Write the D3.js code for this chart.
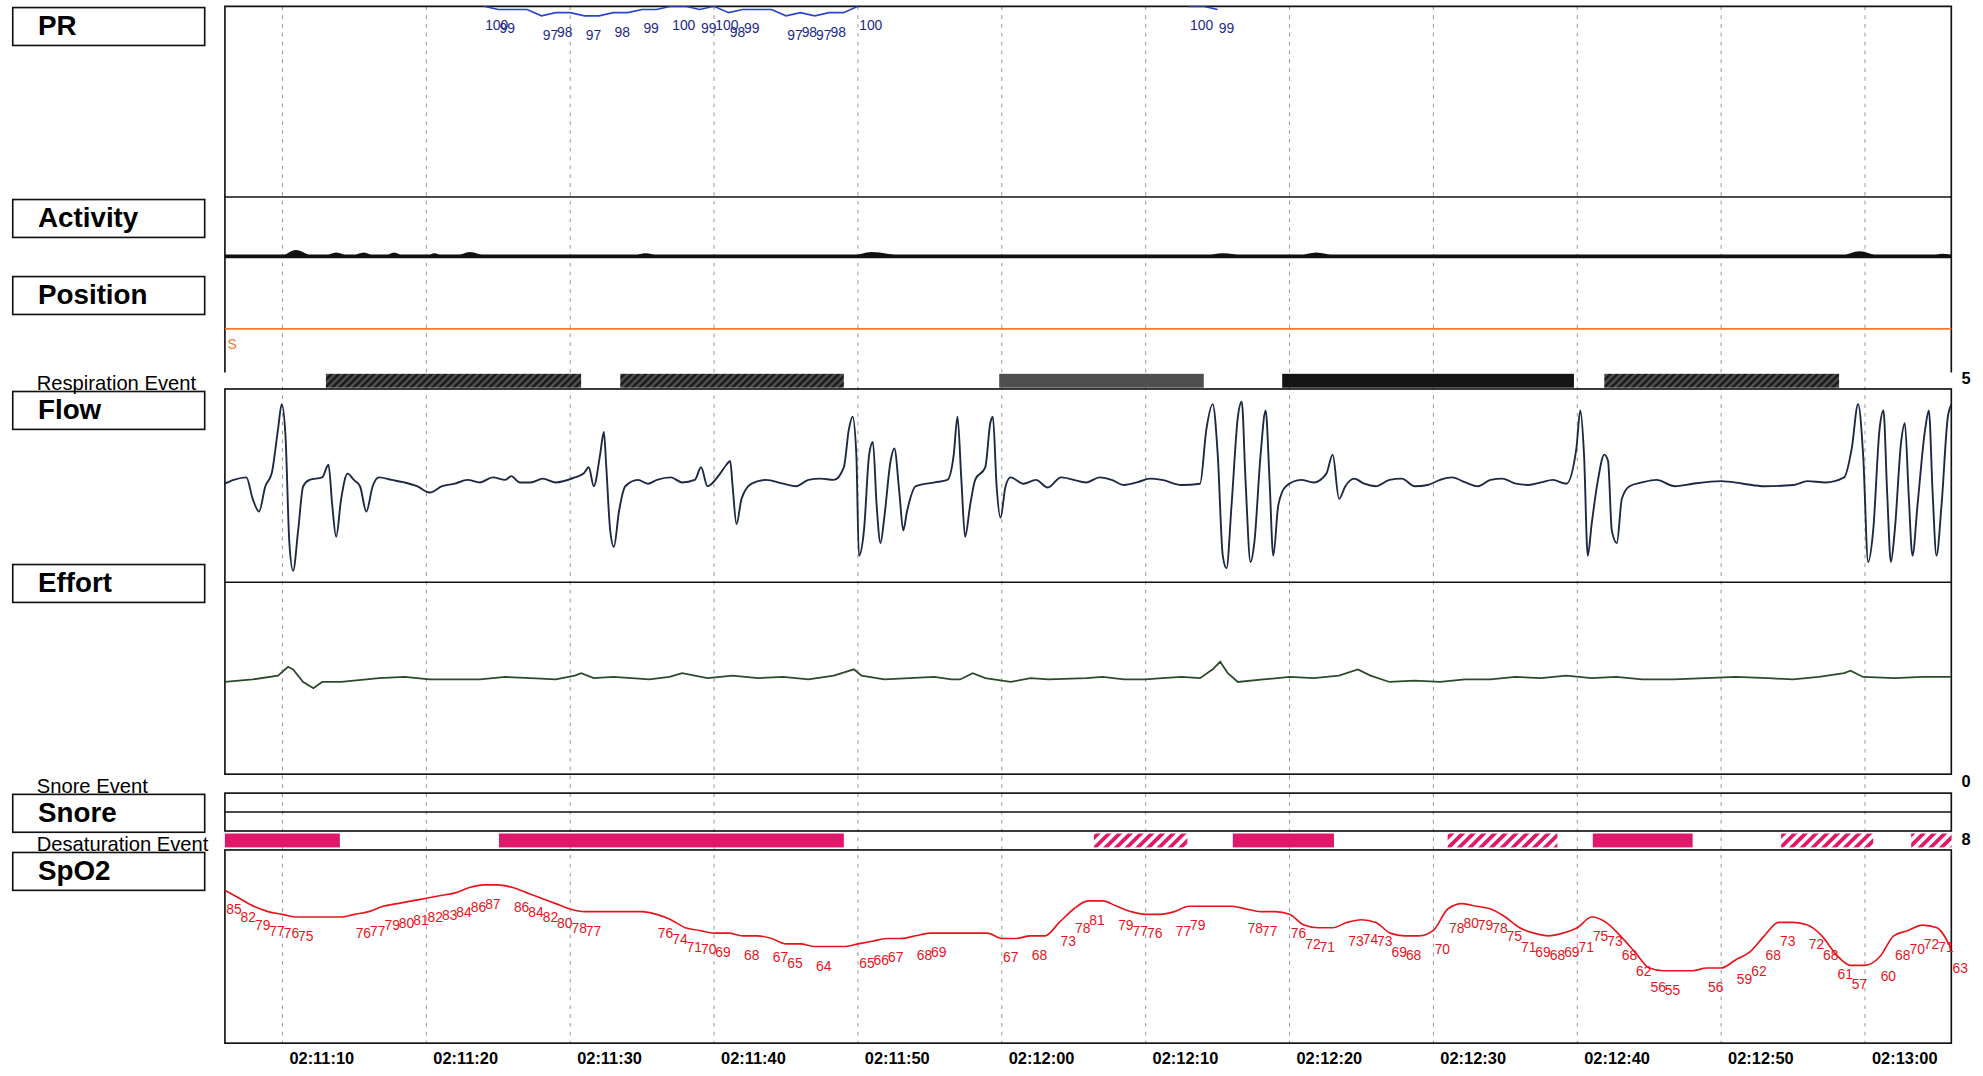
<!DOCTYPE html>
<html lang="en">
<head>
<meta charset="UTF-8" />
<title>PSG epoch 02:11:06 - 02:13:06</title>
<script src="https://cdn.jsdelivr.net/npm/d3@7"></script>
<style>
  html, body { margin: 0; padding: 0; background: #fff; }
  svg { display: block; }
</style>
</head>
<body>
<svg id="chart" width="1983" height="1076" viewBox="0 0 1570 852"></svg>
<script>
// all times are seconds after 02:11:00
var tickTimes = [10, 20, 30, 40, 50, 60, 70, 80, 90, 100, 110, 120];
var tickLabels = ["02:11:10", "02:11:20", "02:11:30", "02:11:40", "02:11:50", "02:12:00",
                  "02:12:10", "02:12:20", "02:12:30", "02:12:40", "02:12:50", "02:13:00"];

var channelNames = ["PR", "Activity", "Position", "Flow", "Effort", "Snore", "SpO2"];
var eventNames = ["Respiration Event", "Snore Event", "Desaturation Event"];
var eventCounts = ["5", "0", "8"];

// SpO2, one value per second from t = 6 to t = 126
var spo2Start = 6;
var spo2Values = [
  85, 82, 79, 77, 76, 75, 75, 75, 75, 76, 77, 79, 80, 81, 82, 83, 84, 86, 87, 87,
  86, 84, 82, 80, 78, 77, 77, 77, 77, 77, 76, 74, 71, 70, 69, 69, 68, 68, 67, 65,
  65, 64, 64, 64, 65, 66, 67, 67, 68, 69, 69, 69, 69, 69, 67, 67, 68, 68, 73, 78,
  81, 81, 79, 77, 76, 76, 77, 79, 79, 79, 79, 78, 77, 77, 76, 72, 71, 71, 73, 74,
  73, 69, 68, 68, 70, 78, 80, 79, 78, 75, 71, 69, 68, 69, 71, 75, 73, 68, 62, 56,
  55, 55, 55, 56, 56, 59, 62, 68, 73, 73, 72, 68, 61, 57, 57, 60, 68, 70, 72, 71,
  63
];

// pulse rate, one value per second from t = 23; null = above the scale
var prStart = 23;
var prValues = [
  null, 100, 99, 99, 99, 97, 98, 98, 97, 97, 98, 98, 99, 99, 100, 100, 99, 100, 98, 99,
  99, 99, 97, 98, 97, 98, 98, 100,
  null, null, null, null, null, null, null, null, null, null, null,
  null, null, null, null, null, null, null, null, null, null, null,
  100, 100, 99, null
];

// flow (arbitrary units), [t, value]
var flowPoints = [
  [6.00, 1], [6.61, 4], [7.49, 6], [7.93, -11], [8.37, -21], [8.81, -1], [9.25, 9], [9.69, 44],
  [9.95, 64], [10.21, 39], [10.48, -46], [10.74, -68], [11.09, -36], [11.44, -1], [11.88, 4],
  [12.76, 6], [13.20, 16], [13.46, -16], [13.73, -41], [14.08, -11], [14.52, 9], [14.96, 4],
  [15.39, -1], [15.83, -21], [16.27, -1], [16.71, 6], [17.59, 4], [18.47, 2], [19.35, -1],
  [20.22, -6], [21.10, -1], [21.98, 1], [22.86, 4], [23.73, 2], [24.61, 6], [25.49, 4],
  [25.9, 7], [26.5, 2], [27.25, 2], [28.1, 5], [29.00, 2], [30.32, 6], [30.93, 9], [31.29, 14],
  [31.64, -1], [32.08, 24], [32.34, 42], [32.51, 14], [32.78, -36], [33.04, -49], [33.39, -21],
  [33.83, -1], [34.71, 4], [35.4, 1], [36.03, 4], [37.0, 6], [37.78, 2], [38.66, 4], [39.10, 14],
  [39.54, -1], [40.42, 9], [40.86, 16], [41.12, 19], [41.29, -1], [41.56, -31], [41.91, -11],
  [42.61, 1], [43.6, 4], [44.81, 1], [45.7, -1], [46.56, 4], [47.4, 5], [48.32, 4], [49.02, 14],
  [49.37, 44], [49.63, 54], [49.89, 24], [50.07, -56], [50.42, -36], [50.78, 24], [51.04, 34],
  [51.30, -16], [51.57, -46], [51.83, -26], [52.27, 19], [52.53, 29], [52.88, -6], [53.15, -36],
  [53.41, -21], [54.03, -1], [55.34, 2], [56.22, 4], [56.66, 24], [56.92, 54], [57.19, 4],
  [57.45, -41], [57.80, -16], [58.15, 4], [58.85, 14], [59.20, 49], [59.38, 54], [59.64, -1],
  [59.91, -26], [60.26, -1], [60.61, 6], [61.5, 1], [62.37, 4], [63.2, -2], [64.12, 6],
  [65.88, 2], [66.8, 6], [67.63, 4], [68.5, 0], [69.39, 2], [70.3, 5], [71.14, 4], [72.5, 0],
  [73.78, 1], [74.22, 44], [74.66, 64], [75.01, 24], [75.36, -56], [75.62, -66], [75.97, -16],
  [76.41, 54], [76.68, 66], [76.94, 4], [77.29, -61], [77.55, -46], [77.99, 24], [78.34, 59],
  [78.61, 4], [78.87, -56], [79.22, -16], [79.75, -1], [80.80, 4], [81.68, 2], [82.56, 9],
  [83.00, 24], [83.44, -11], [83.88, -1], [84.5, 5], [85.19, 1], [86.0, -1], [86.95, 4],
  [87.8, 5], [88.71, -1], [89.6, 0], [90.46, 4], [91.3, 6], [92.22, 2], [93.1, -1], [93.97, 4],
  [94.8, 5], [95.73, 1], [96.6, 0], [97.48, 2], [98.3, 4], [99.24, 1], [99.94, 29], [100.21, 59],
  [100.47, 24], [100.73, -56], [101.00, -31], [101.44, 4], [101.88, 24], [102.14, 19],
  [102.40, -36], [102.75, -46], [103.10, -11], [103.63, -1], [104.51, 2], [105.5, 4],
  [106.8, -1], [108.02, 1], [110.0, 3], [111.53, 1], [113.0, -1], [115.04, 0], [116.0, 3],
  [117.24, 2], [118.55, 6], [119.08, 29], [119.52, 64], [119.87, 24], [120.22, -61],
  [120.57, -36], [121.01, 44], [121.28, 59], [121.54, -6], [121.80, -61], [122.07, -36],
  [122.51, 34], [122.77, 49], [123.03, -6], [123.30, -56], [123.65, -16], [124.18, 44],
  [124.44, 59], [124.70, -6], [124.97, -56], [125.32, -16], [125.76, 54], [126.02, 64]
];

// effort (arbitrary units), [t, value]
var effortPoints = [
  [6.00, -3], [7.93, -1], [9.69, 2], [10.39, 9], [10.74, 7], [11.44, -3], [12.15, -8],
  [12.76, -3], [14.08, -3], [16.71, 0], [18.5, 1], [20.22, -1], [22.0, -1], [23.73, -1],
  [25.5, 1], [27.25, 0], [29.0, -1], [30.32, 2], [30.76, 4], [31.64, 0], [33.0, 1], [34.27, 0],
  [35.5, -1], [36.90, 1], [37.78, 4], [39.54, 0], [41.29, 2], [43.05, 0], [44.8, 1],
  [46.56, -1], [48.32, 2], [49.72, 7], [50.25, 2], [51.83, -1], [53.59, 0], [55.3, 1],
  [56.5, -1], [57.10, -1], [57.98, 4], [58.85, 0], [60.61, -3], [62.0, 0], [63.24, -1],
  [65.88, 0], [67.0, 1], [68.51, -1], [70.0, -1], [71.14, 0], [72.5, 1], [73.78, 0],
  [74.66, 7], [75.18, 13], [75.71, 4], [76.41, -3], [78.17, -1], [80.0, 1], [81.68, 0],
  [83.44, 2], [84.75, 7], [85.63, 2], [86.95, -3], [88.7, -2], [90.46, -3], [92.2, -1],
  [93.97, -1], [95.7, 1], [97.48, 0], [99.24, 2], [101.00, 0], [102.7, 1], [104.51, -1],
  [106.7, -1], [108.90, 0], [111.0, 1], [113.29, 0], [115.0, -1], [116.80, 1], [118.55, 4],
  [118.99, 6], [119.87, 1], [122.07, 0], [124.0, 1], [126.02, 1]
];

// activity, [t, value]
var activityPoints = [
  [6, 0], [9.82, 0], [10.92, 5], [12.23, 0], [12.85, 0], [13.73, 3], [14.69, 0],
  [15.66, 3], [16.45, 0], [17.06, 0], [17.76, 3], [18.47, 0], [19.96, 0], [20.57, 2.5],
  [21.19, 0], [21.89, 0], [23.03, 3.5], [24.35, 0], [34.18, 0], [35.24, 2.5], [36.38, 0],
  [49.28, 0], [50.95, 3.5], [53.59, 0], [73.78, 0], [75.36, 2.5], [77.29, 0], [80.36, 0],
  [81.86, 3], [83.44, 0], [118.11, 0], [119.61, 4], [121.19, 0], [124.5, 0], [125.4, 2],
  [126, 1]
];

var positionCategories = ["P", "L", "S", "R"];
var positionPoints = [[6, "S"], [126, "S"]];

// [start, end, type]
var respEvents = [
  [13.02, 30.76, "obstructive"], [33.48, 49.02, "obstructive"], [59.82, 74.04, "central"],
  [79.49, 99.77, "mixed"], [101.88, 118.20, "obstructive"]
];
var desatEvents = [
  [6.00, 13.99, "solid"], [25.05, 49.02, "solid"], [66.40, 72.90, "hatched"],
  [76.06, 83.09, "solid"], [90.99, 98.62, "hatched"], [101.08, 108.02, "solid"],
  [114.17, 120.57, "hatched"], [123.21, 126.02, "hatched"]
];

var font = "'Liberation Sans', Arial, Helvetica, sans-serif";
var svg = d3.select("#chart");
var left = 178, right = 1545;

var x = d3.scaleLinear().domain([6, 126]).range([left, right]);
var prY = d3.scaleLinear().domain([40, 100]).range([156, 5]);
var actY = d3.scaleLinear().domain([0, 47]).range([203, 156]);
var posY = d3.scalePoint().domain(positionCategories).range([203, 295]).padding(0.5);
var flowY = d3.scaleLinear().domain([-77, 77]).range([461, 307]);
var effY = d3.scaleLinear().domain([-76, 76]).range([613, 461]);
var spoY = d3.scaleLinear().domain([28, 100]).range([826, 673]);

var defs = svg.append("defs");
function hatch(id, bg, fg, size, w) {
  var p = defs.append("pattern").attr("id", id)
    .attr("patternUnits", "userSpaceOnUse")
    .attr("width", size).attr("height", size)
    .attr("patternTransform", "rotate(45)");
  p.append("rect").attr("width", size).attr("height", size).attr("fill", bg);
  p.append("rect").attr("width", w).attr("height", size).attr("fill", fg);
}
hatch("hObs", "#1c1c1c", "#4d4d4d", 4, 2);
hatch("hDesat", "#ffffff", "#e0186c", 6, 3);

function clip(id, y0, y1) {
  defs.append("clipPath").attr("id", id).append("rect")
    .attr("x", left).attr("y", y0).attr("width", right - left).attr("height", y1 - y0);
}
clip("cPR", 5, 156);
clip("cFlow", 308, 461);
clip("cEff", 461, 613);
clip("cSpo", 673, 826);

// vertical grid
svg.append("g").selectAll("line").data(tickTimes).enter().append("line")
  .attr("x1", function (d) { return x(d); }).attr("x2", function (d) { return x(d); })
  .attr("y1", 5).attr("y2", 826)
  .attr("stroke", "#9a9a9a").attr("stroke-width", 0.8).attr("stroke-dasharray", "3,4");

// panel frames
var frame = svg.append("g").attr("fill", "none").attr("stroke", "#111").attr("stroke-width", 1.3);
frame.append("path").attr("d", "M" + left + ",295V5H" + right + "V295");
frame.append("line").attr("x1", left).attr("x2", right).attr("y1", 156).attr("y2", 156);
frame.append("rect").attr("x", left).attr("y", 308).attr("width", right - left).attr("height", 305);
frame.append("line").attr("x1", left).attr("x2", right).attr("y1", 461).attr("y2", 461);
frame.append("rect").attr("x", left).attr("y", 628).attr("width", right - left).attr("height", 30);
frame.append("line").attr("x1", left).attr("x2", right).attr("y1", 643).attr("y2", 643);
frame.append("rect").attr("x", left).attr("y", 673).attr("width", right - left).attr("height", 153);

// left channel labels
var boxY = [6, 158, 219, 310, 447, 629, 675];
var lab = svg.append("g");
channelNames.forEach(function (n, i) {
  lab.append("rect").attr("x", 10).attr("y", boxY[i]).attr("width", 152).attr("height", 30)
    .attr("fill", "#fff").attr("stroke", "#111").attr("stroke-width", 1.3);
  lab.append("text").attr("x", 30).attr("y", boxY[i] + 22).text(n)
    .attr("font-family", font).attr("font-size", 22).attr("font-weight", "bold").attr("fill", "#000");
});
var evY = [309, 628, 674];
eventNames.forEach(function (n, i) {
  lab.append("text").attr("x", 29).attr("y", evY[i]).text(n)
    .attr("font-family", font).attr("font-size", 16).attr("fill", "#000");
  lab.append("text").attr("x", 1553).attr("y", evY[i] - 5).text(eventCounts[i])
    .attr("font-family", font).attr("font-size", 13).attr("font-weight", "bold").attr("fill", "#000");
});

// PR
var prData = prValues.map(function (v, i) { return [prStart + i, v]; });
svg.append("path").datum(prData).attr("clip-path", "url(#cPR)")
  .attr("fill", "none").attr("stroke", "#2a46c8").attr("stroke-width", 1.3)
  .attr("d", d3.line().defined(function (d) { return d[1] !== null; })
    .x(function (d) { return x(d[0]); }).y(function (d) { return prY(d[1]); }));
var prLabels = prData.filter(function (d, i) {
  return d[1] !== null && (i === 0 || prData[i - 1][1] !== d[1]);
});
svg.append("g").selectAll("text").data(prLabels).enter().append("text")
  .attr("x", function (d) { return x(d[0]) + 1; })
  .attr("y", function (d) { return prY(d[1]) + 19; })
  .text(function (d) { return d[1]; })
  .attr("font-family", font).attr("font-size", 11).attr("fill", "#1b2a8a");

// Activity
svg.append("path").datum(activityPoints).attr("fill", "#111")
  .attr("d", d3.area().curve(d3.curveMonotoneX)
    .x(function (d) { return x(d[0]); }).y0(actY(0)).y1(function (d) { return actY(d[1]); }));
svg.append("line").attr("x1", left).attr("x2", right).attr("y1", actY(0)).attr("y2", actY(0))
  .attr("stroke", "#111").attr("stroke-width", 2.8);

// Position
svg.append("path").datum(positionPoints).attr("fill", "none")
  .attr("stroke", "#f07a28").attr("stroke-width", 1.4)
  .attr("d", d3.line().x(function (d) { return x(d[0]); }).y(function (d) { return posY(d[1]); }));
svg.append("text").attr("x", left + 2).attr("y", posY(positionPoints[0][1]) + 16)
  .text(positionPoints[0][1]).attr("font-family", font).attr("font-size", 11).attr("fill", "#f07a28");

// Respiration events
var respFill = { obstructive: "url(#hObs)", central: "#4f4f4f", mixed: "#141414" };
svg.append("g").selectAll("rect").data(respEvents).enter().append("rect")
  .attr("x", function (d) { return x(d[0]); })
  .attr("width", function (d) { return x(d[1]) - x(d[0]); })
  .attr("y", 296).attr("height", 11)
  .attr("fill", function (d) { return respFill[d[2]]; });

// Flow
svg.append("path").datum(flowPoints).attr("clip-path", "url(#cFlow)")
  .attr("fill", "none").attr("stroke", "#1d2944").attr("stroke-width", 1.5)
  .attr("stroke-linejoin", "round")
  .attr("d", d3.line().curve(d3.curveMonotoneX)
    .x(function (d) { return x(d[0]); }).y(function (d) { return flowY(d[1]); }));

// Effort
svg.append("path").datum(effortPoints).attr("clip-path", "url(#cEff)")
  .attr("fill", "none").attr("stroke", "#2c4a2a").attr("stroke-width", 1.4)
  .attr("d", d3.line()
    .x(function (d) { return x(d[0]); }).y(function (d) { return effY(d[1]); }));

// Desaturation events
svg.append("g").selectAll("rect").data(desatEvents).enter().append("rect")
  .attr("x", function (d) { return x(d[0]); })
  .attr("width", function (d) { return x(d[1]) - x(d[0]); })
  .attr("y", 660).attr("height", 11)
  .attr("fill", function (d) { return d[2] === "solid" ? "#e0186c" : "url(#hDesat)"; });

// SpO2
var spoData = spo2Values.map(function (v, i) { return [spo2Start + i, v]; });
svg.append("path").datum(spoData).attr("clip-path", "url(#cSpo)")
  .attr("fill", "none").attr("stroke", "#e8141c").attr("stroke-width", 1.3)
  .attr("d", d3.line().curve(d3.curveMonotoneX)
    .x(function (d) { return x(d[0]); }).y(function (d) { return spoY(d[1]); }));
var spoLabels = spoData.filter(function (d, i) { return i === 0 || spoData[i - 1][1] !== d[1]; });
svg.append("g").selectAll("text").data(spoLabels).enter().append("text")
  .attr("x", function (d) { return x(d[0]) + 1; })
  .attr("y", function (d) { return spoY(d[1]) + 19; })
  .text(function (d) { return d[1]; })
  .attr("font-family", font).attr("font-size", 11).attr("fill", "#e8141c");

// time axis
var axis = d3.axisBottom(x).tickValues(tickTimes)
  .tickFormat(function (d, i) { return tickLabels[i]; }).tickSize(0);
var gAxis = svg.append("g").attr("transform", "translate(0,826)").call(axis);
gAxis.select(".domain").remove();
gAxis.selectAll("text").attr("text-anchor", "start").attr("dx", 5).attr("y", 7)
  .attr("font-family", font).attr("font-size", 13).attr("font-weight", "bold").attr("fill", "#000");
</script>
</body>
</html>
